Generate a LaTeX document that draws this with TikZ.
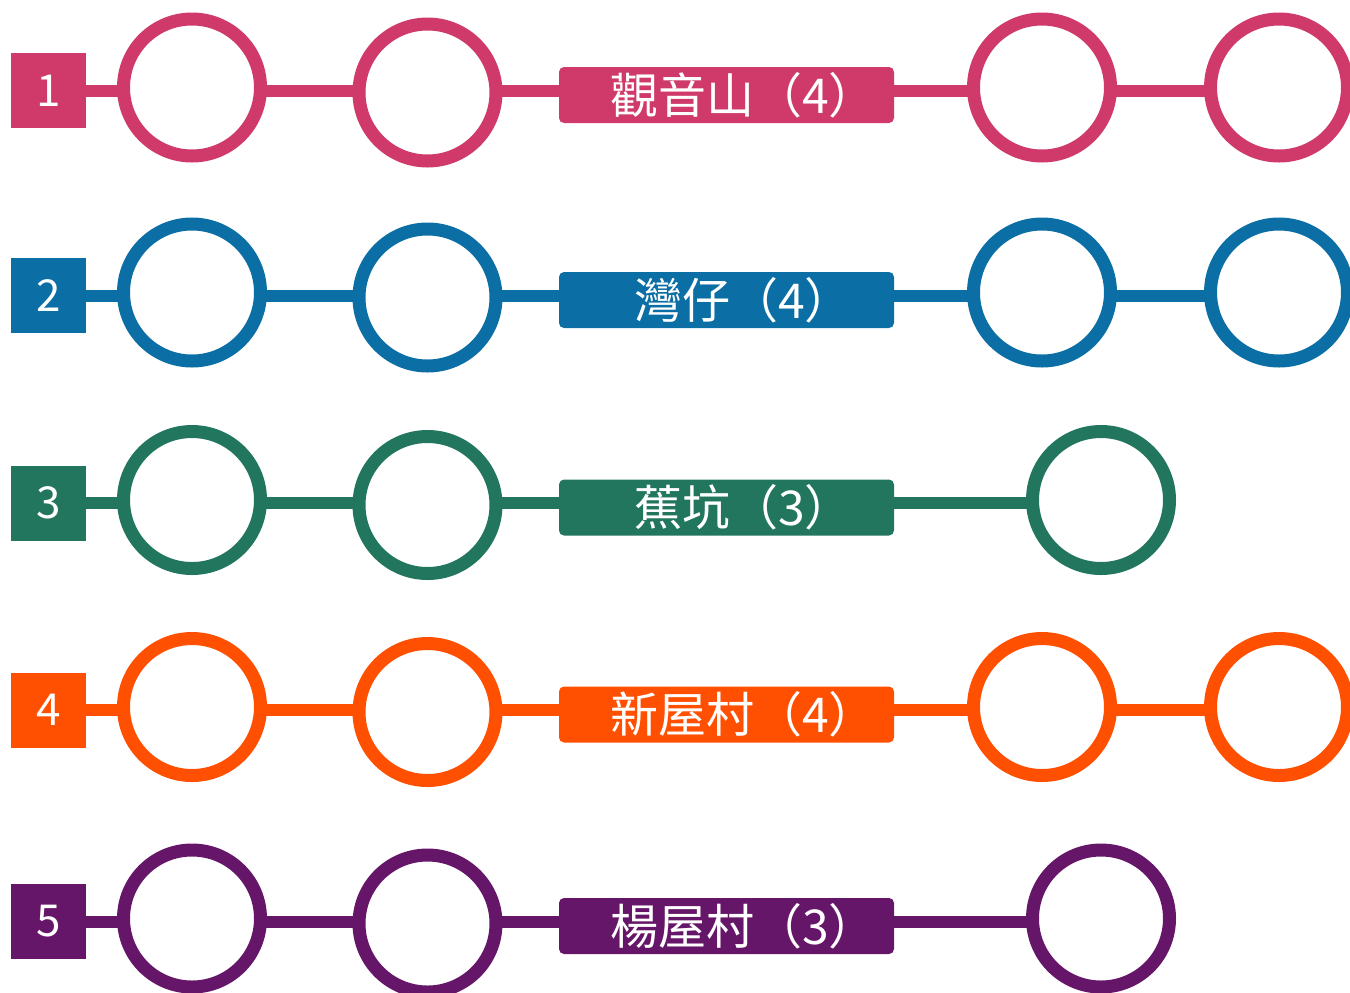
\documentclass[tikz,border=0pt]{standalone}
\usepackage{fontspec}
\setmainfont{Noto Sans CJK TC}
\definecolor{rowa}{HTML}{CF3A6A}
\definecolor{rowb}{HTML}{0B6EA4}
\definecolor{rowc}{HTML}{22765D}
\definecolor{rowd}{HTML}{FF4F00}
\definecolor{rowe}{HTML}{661668}
\begin{document}
\begin{tikzpicture}[x=0.5pt, y=-0.5pt,
  every node/.style={outer sep=0pt, inner sep=0pt},
  linenum/.style={rectangle, minimum size=37.5pt, text=white, font=\fontsize{22}{24}\selectfont},
  station/.style={circle, minimum size=68.5pt, line width=6.5pt, fill=white},
  linename/.style={rectangle, rounded corners=2.5pt, minimum width=167.5pt, minimum height=28pt,
    text=white, font=\fontsize{24}{26}\selectfont, execute at begin node={\hspace*{17pt}}},
  track/.style={line width=6pt}]
  %% page size
  \useasboundingbox (0,0) rectangle (1350,992);
  % First row
  \node[linenum, fill=rowa] (a0) at (48.5, 90.5) {1};
  \node[station, draw=rowa] (a1) at (192, 87.5) {};
  \node[station, draw=rowa] (a2) at (427.5, 92.5) {};
  \node[linename, fill=rowa] (a3) at (726.5, 95) {觀音山（4）};
  \node[station, draw=rowa] (a4) at (1042, 87.5) {};
  \node[station, draw=rowa] (a5) at (1279, 87.5) {};
  \draw[track, draw=rowa] (a0.east) -- (a0 -| a1.west)
    (a0 -| a1.east) -- (a0 -| a2.west) (a0 -| a2.east) -- (a0 -| a3.west)
    (a0 -| a3.east) -- (a0 -| a4.west) (a0 -| a4.east) -- (a0 -| a5.west);
  % Second row
  \node[linenum, fill=rowb] (b0) at (48.5, 295.5) {2};
  \node[station, draw=rowb] (b1) at (192, 292.5) {};
  \node[station, draw=rowb] (b2) at (427.5, 297.5) {};
  \node[linename, fill=rowb] (b3) at (726.5, 300) {灣仔（4）};
  \node[station, draw=rowb] (b4) at (1042, 292.5) {};
  \node[station, draw=rowb] (b5) at (1279, 292.5) {};
  \draw[track, draw=rowb] (b0.east) -- (b0 -| b1.west)
    (b0 -| b1.east) -- (b0 -| b2.west) (b0 -| b2.east) -- (b0 -| b3.west)
    (b0 -| b3.east) -- (b0 -| b4.west) (b0 -| b4.east) -- (b0 -| b5.west);
  % Third row
  \node[linenum, fill=rowc] (c0) at (48.5, 503) {3};
  \node[station, draw=rowc] (c1) at (192, 500) {};
  \node[station, draw=rowc] (c2) at (427.5, 505) {};
  \node[linename, fill=rowc] (c3) at (726.5, 507.5) {蕉坑（3）};
  \node[station, draw=rowc] (c4) at (1101, 500) {};
  \draw[track, draw=rowc] (c0.east) -- (c0 -| c1.west)
    (c0 -| c1.east) -- (c0 -| c2.west) (c0 -| c2.east) -- (c0 -| c3.west)
    (c0 -| c3.east) -- (c0 -| c4.west);
  % Fourth row
  \node[linenum, fill=rowd] (d0) at (48.5, 710) {4};
  \node[station, draw=rowd] (d1) at (192, 707) {};
  \node[station, draw=rowd] (d2) at (427.5, 712) {};
  \node[linename, fill=rowd] (d3) at (726.5, 714.5) {新屋村（4）};
  \node[station, draw=rowd] (d4) at (1042, 707) {};
  \node[station, draw=rowd] (d5) at (1279, 707) {};
  \draw[track, draw=rowd] (d0.east) -- (d0 -| d1.west)
    (d0 -| d1.east) -- (d0 -| d2.west) (d0 -| d2.east) -- (d0 -| d3.west)
    (d0 -| d3.east) -- (d0 -| d4.west) (d0 -| d4.east) -- (d0 -| d5.west);
  % Fifth row
  \node[linenum, fill=rowe] (e0) at (48.5, 921.5) {5};
  \node[station, draw=rowe] (e1) at (192, 918.5) {};
  \node[station, draw=rowe] (e2) at (427.5, 923.5) {};
  \node[linename, fill=rowe] (e3) at (726.5, 926) {楊屋村（3）};
  \node[station, draw=rowe] (e4) at (1101, 918.5) {};
  \draw[track, draw=rowe] (e0.east) -- (e0 -| e1.west)
    (e0 -| e1.east) -- (e0 -| e2.west) (e0 -| e2.east) -- (e0 -| e3.west)
    (e0 -| e3.east) -- (e0 -| e4.west);
\end{tikzpicture}
\end{document}
